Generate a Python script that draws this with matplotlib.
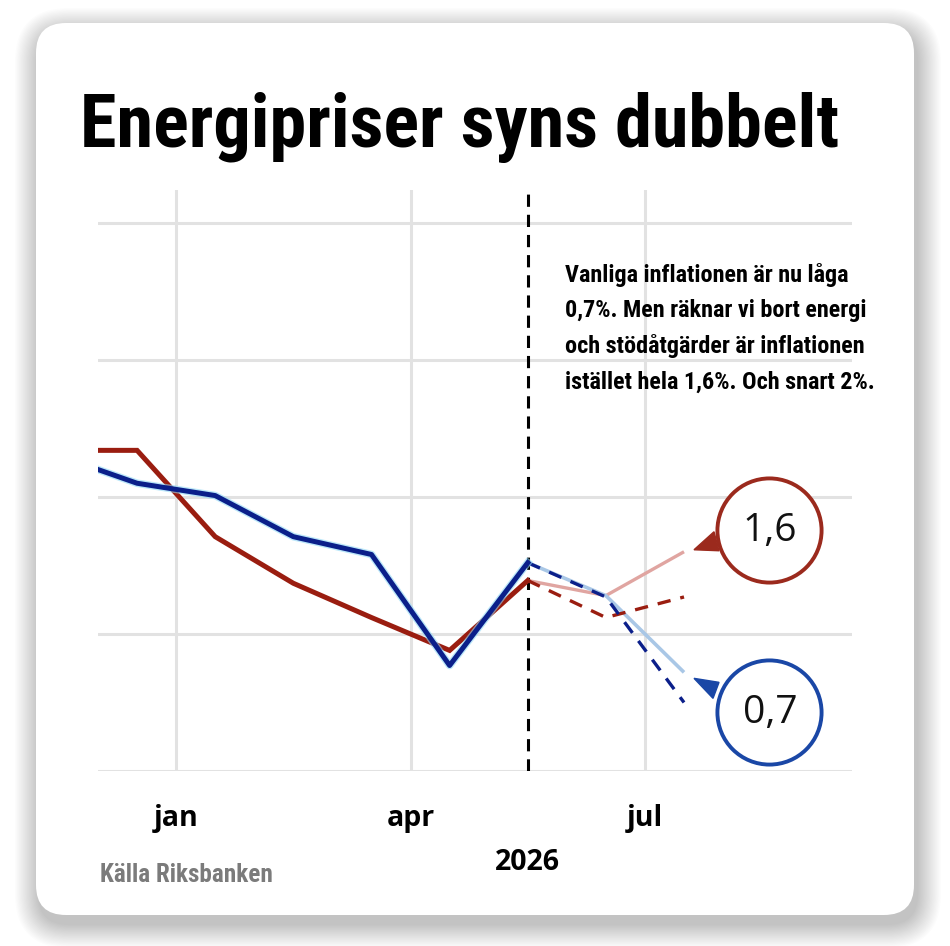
import numpy as np
import matplotlib
matplotlib.use("Agg")
import matplotlib.pyplot as plt
import matplotlib.patheffects as pe
from matplotlib import font_manager as fm
from matplotlib.patches import FancyBboxPatch, Polygon
from matplotlib.transforms import Affine2D, ScaledTranslation, IdentityTransform

# months relative to jan 2026 (0 = jan tick), points at mid-month
hist_x = [-1.0, -0.5, 0.5, 1.5, 2.5, 3.5, 4.5]
red_hist = [2.34, 2.34, 1.71, 1.37, 1.12, 0.88, 1.39]
blue_hist = [2.20, 2.10, 2.01, 1.71, 1.58, 0.77, 1.52]

fc_x = [4.5, 5.5, 6.5]
red_fc_solid = [1.39, 1.28, 1.60]
red_fc_dash = [1.39, 1.12, 1.27]
blue_fc_solid = [1.52, 1.28, 0.72]
blue_fc_dash = [1.52, 1.27, 0.50]

tick_pos = [0, 3, 6]
tick_labels = ["jan", "apr", "jul"]
year_label = "2026"
split_x = 4.5

title = "Energipriser syns dubbelt"
note = ("Vanliga inflationen är nu låga\n"
        "0,7%. Men räknar vi bort energi\n"
        "och stödåtgärder är inflationen\n"
        "istället hela 1,6%. Och snart 2%.")
source = "Källa Riksbanken"
red_value = "1,6"
blue_value = "0,7"

RED = "#9a1d10"
BLUE = "#0b1f8a"
PINK = "#e0a5a1"
LIGHTBLUE = "#a9c7e6"
GRID = "#e2e2e2"
SANS = ["Open Sans", "DejaVu Sans"]


def condensed_bold():
    # pick the narrowest bold face that is installed
    wanted = ["Liberation Sans Narrow", "Roboto Condensed", "Open Sans Condensed",
              "Noto Sans Condensed", "DejaVu Sans Condensed"]
    fonts = fm.fontManager.ttflist
    for name in wanted:
        for f in fonts:
            if f.name == name and f.weight in (700, "bold") and f.style == "normal":
                return fm.FontProperties(fname=f.fname)
    for f in fonts:
        if "condensed" in str(f.stretch) and f.weight in (700, "bold") and f.style == "normal":
            return fm.FontProperties(fname=f.fname)
    for f in fonts:
        if "Condensed" in f.fname and "Bold" in f.fname and "Oblique" not in f.fname:
            return fm.FontProperties(fname=f.fname)
    return fm.FontProperties(family="DejaVu Sans", weight="bold")


NARROW = condensed_bold()

W, H = 950, 946
fig = plt.figure(figsize=(W / 100, H / 100), dpi=100)
fig.patch.set_facecolor("white")

# card with soft shadow (pixel coords, y from bottom)
cx0, cy0, cw, ch = 36, H - 915, 878, 892
for i in range(20, 0, -1):
    g = i * 1.2
    shadow = FancyBboxPatch((cx0 - g + 3, cy0 - g - 9), cw + 2 * g, ch + 2 * g,
                            boxstyle=f"round,pad=0,rounding_size={30 + g}",
                            transform=IdentityTransform(), fc="black", ec="none",
                            alpha=0.011, zorder=0)
    fig.add_artist(shadow)
card = FancyBboxPatch((cx0, cy0), cw, ch, boxstyle="round,pad=0,rounding_size=30",
                      transform=IdentityTransform(), fc="white", ec="none", zorder=0.5)
fig.add_artist(card)

# plot area
left, right, top, bottom = 98, 852, 190, 771
ax = fig.add_axes([left / W, 1 - bottom / H, (right - left) / W, (bottom - top) / H])
ax.set_facecolor("none")
ax.set_zorder(2)
ax.set_xlim(-1.0, 8.65)
ax.set_ylim(0, 4.24)
for s in ax.spines.values():
    s.set_visible(False)
ax.set_yticks([0, 1, 2, 3, 4])
ax.set_yticklabels([])
ax.tick_params(axis="y", length=0)
ax.set_xticks(tick_pos)
ax.set_xticklabels(tick_labels, fontfamily=SANS, fontsize=20.5, fontweight="bold")
ax.tick_params(axis="x", length=0, pad=24)
ax.grid(True, color=GRID, lw=2.2, zorder=0)
ax.set_axisbelow(True)

ax.axvline(split_x, color="black", lw=2.2, dashes=(4, 2.6), zorder=1.5)

halo = [pe.Stroke(linewidth=5.5, foreground="#8fd8f6", alpha=0.6), pe.Normal()]
ax.plot(fc_x, red_fc_solid, color=PINK, lw=2.4, zorder=2, solid_capstyle="butt")
ax.plot(fc_x, blue_fc_solid, color=LIGHTBLUE, lw=2.6, zorder=2.1, solid_capstyle="butt")
ax.plot(fc_x, red_fc_dash, color=RED, lw=2.4, dashes=(4, 3), zorder=2.2)
ax.plot(fc_x, blue_fc_dash, color=BLUE, lw=2.4, dashes=(4, 3), zorder=2.3)
ax.plot(hist_x, red_hist, color=RED, lw=3.6, zorder=3, solid_joinstyle="miter")
ax.plot(hist_x, blue_hist, color=BLUE, lw=3.6, zorder=3.1, path_effects=halo)


def callout(x, y, dx, dy, text, color, tail):
    # circle label positioned in pixels relative to the series end point
    trans = Affine2D().translate(dx, dy) + ScaledTranslation(x, y, ax.transData)
    ax.add_patch(Polygon(tail, closed=True, transform=trans, fc=color, ec=color,
                         lw=1, zorder=5, clip_on=False))
    ax.plot([0], [0], marker="o", ms=75, mfc="white", mec=color, mew=2.8,
            transform=trans, zorder=6, clip_on=False)
    ax.text(1, -1, text, transform=trans, ha="center", va="center", fontsize=28,
            fontfamily=SANS, fontweight="medium", color="#111111", zorder=7)


callout(fc_x[-1], red_fc_solid[-1], 85, 22, red_value, "#9b2a1d",
        [(-75, -20), (-55, -2), (-50, -21)])
callout(fc_x[-1], blue_fc_solid[-1], 85, -40, blue_value, "#1a47a6",
        [(-75, 34), (-50, 30), (-56, 14)])

ax.annotate(year_label, xy=(split_x, 0), xycoords=("data", "axes fraction"),
            xytext=(0, -71), textcoords="offset points", ha="center", va="baseline",
            fontsize=20.5, fontweight="bold", fontfamily=SANS)

t_title = fig.text(80 / W, 1 - 147 / H, title, fontproperties=NARROW,
                   fontsize=54, ha="left", va="baseline", zorder=3)
t_note = fig.text(565 / W, 1 - 263 / H, note, fontproperties=NARROW,
                  fontsize=18.3, ha="left", va="top", linespacing=1.66, zorder=3)
t_src = fig.text(100 / W, 1 - 882 / H, source, fontproperties=NARROW,
                 fontsize=18.3, color="#7b7b7b", ha="left", va="baseline", zorder=3)

# fit the condensed texts to the widths they take in the original
renderer = fig.canvas.get_renderer()
for t, width in [(t_title, 758), (t_note, 310), (t_src, 172)]:
    w = t.get_window_extent(renderer).width
    t.set_fontsize(t.get_fontsize() * width / w)

fig.savefig("out.png", dpi=100)
